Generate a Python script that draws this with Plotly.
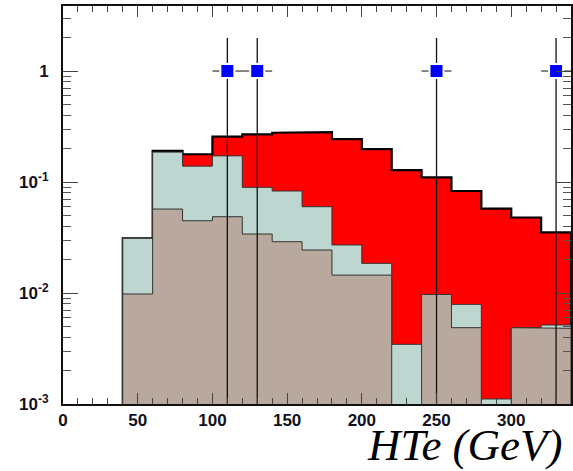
import plotly.graph_objects as go

# ---- data ----
bin_edges = [0, 20, 40, 60, 80, 100, 120, 140, 160, 180, 200, 220, 240, 260, 280, 300, 320, 340]
total = [0, 0, 0.0311, 0.191, 0.178, 0.256, 0.269, 0.278, 0.281, 0.244, 0.198, 0.128, 0.110, 0.083, 0.0577, 0.0479, 0.0352]
teal = [0, 0, 0.0311, 0.186, 0.139, 0.172, 0.0896, 0.083, 0.0599, 0.0271, 0.0185, 0.00345, 0.0097, 0.0079, 0.00111, 0.00487, 0.00515]
brown = [0, 0, 0.0098, 0.0571, 0.0448, 0.0487, 0.034, 0.029, 0.0244, 0.0145, 0.0145, 0, 0.0097, 0.00487, 0, 0.00487, 0.00481]

data_x = [110, 130, 250, 330]
data_y = [1, 1, 1, 1]
data_err_up = [0.98, 0.98, 0.98, 0.98]
data_err_down = [0.99999, 0.99999, 0.99999, 0.99999]
data_err_x = [10, 10, 10, 10]

y_tick_vals = [0.001, 0.01, 0.1, 1]
y_tick_text = ["10<sup>-3</sup>", "10<sup>-2</sup>", "10<sup>-1</sup>", "1"]

FLOOR = 1e-6


def step_polygon(edges, vals):
    xs = [edges[0]]
    ys = [FLOOR]
    for i, v in enumerate(vals):
        v = v if v > 0 else FLOOR
        xs += [edges[i], edges[i + 1]]
        ys += [v, v]
    xs.append(edges[-1])
    ys.append(FLOOR)
    return xs, ys


fig = go.Figure()

for vals, fill, lc, lw in [
    (total, "#ff0000", "#000000", 2.2),
    (teal, "#bdd7d0", "#333333", 1.0),
    (brown, "#b8a89d", "#333333", 1.0),
]:
    xs, ys = step_polygon(bin_edges, vals)
    fig.add_trace(go.Scatter(x=xs, y=ys, mode="lines", fill="toself",
                             fillcolor=fill, line=dict(color=lc, width=lw),
                             hoverinfo="skip"))

fig.add_trace(go.Scatter(
    x=data_x, y=data_y, mode="markers",
    marker=dict(symbol="square", size=14, color="#0000ff",
                line=dict(color="white", width=2)),
    error_y=dict(type="data", symmetric=False, array=data_err_up,
                 arrayminus=data_err_down, color="#111111", thickness=1.3, width=0),
    error_x=dict(type="data", array=data_err_x, color="#444444", thickness=1.3, width=0),
    cliponaxis=True,
))

minor_y = [m * 10 ** e for e in (-3, -2, -1, 0) for m in range(2, 10)]

fig.update_layout(
    width=573, height=471,
    margin=dict(l=63, r=0, t=6, b=67),
    plot_bgcolor="white", paper_bgcolor="white",
    showlegend=False,
    xaxis=dict(
        range=[0, 340], tick0=0, dtick=50,
        ticks="inside", ticklen=11, tickwidth=1, tickcolor="#444444",
        minor=dict(dtick=10, ticks="inside", ticklen=6, tickcolor="#444444", showgrid=False),
        showline=True, linecolor="#111111", linewidth=2, mirror="allticks",
        showgrid=False, zeroline=False,
        tickfont=dict(family="Liberation Sans", size=17, color="#111122", weight="bold"),
        ticklabelstandoff=0,
    ),
    yaxis=dict(
        type="log", range=[-3, 0.586],
        tickmode="array", tickvals=y_tick_vals, ticktext=y_tick_text,
        ticks="inside", ticklen=15, tickwidth=1, tickcolor="#444444",
        minor=dict(tickmode="array", tickvals=minor_y, ticks="inside", ticklen=8,
                   tickcolor="#555555", showgrid=False),
        showline=True, linecolor="#111111", linewidth=2, mirror="allticks",
        showgrid=False, zeroline=False,
        tickfont=dict(family="Liberation Sans", size=17, color="#111122", weight="bold"),
        ticklabelstandoff=9,
    ),
    annotations=[dict(
        text="<i>HTe (GeV)</i>", xref="paper", yref="paper",
        x=0.988, y=-0.17, xanchor="right", yanchor="bottom",
        showarrow=False, font=dict(family="Liberation Serif", size=45, color="black"),
    )],
)

fig.write_html("out.html", config={"displayModeBar": False},
               post_script="document.body.style.margin='0px';")
